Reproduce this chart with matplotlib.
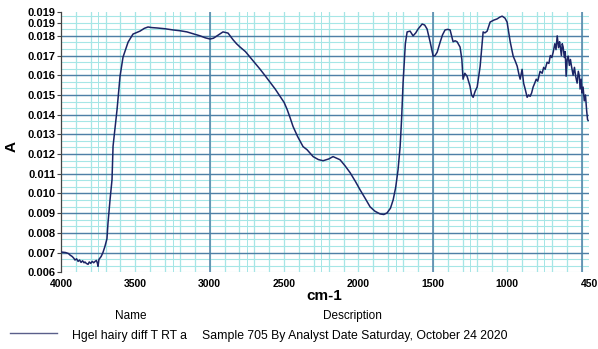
import numpy as np
import matplotlib
matplotlib.use("Agg")
import matplotlib.pyplot as plt
from matplotlib.lines import Line2D

plt.rcParams["font.family"] = ["Liberation Sans", "DejaVu Sans"]

# spectrum (wavenumber cm-1, absorbance)
wavenumber = [
    3993, 3970, 3950, 3939, 3925, 3915, 3906, 3895, 3885, 3875, 3865, 3855,
    3845, 3839, 3830, 3818, 3810, 3800, 3790, 3780, 3771, 3762, 3755, 3751,
    3745, 3738, 3730, 3718, 3705, 3691, 3684, 3670, 3657, 3650, 3623, 3603,
    3583, 3549, 3516, 3469, 3440, 3415, 3390, 3354, 3300, 3247, 3200, 3153,
    3100, 3065, 3030, 2998, 2975, 2951, 2911, 2877, 2843, 2820, 2796, 2760,
    2729, 2700, 2662, 2630, 2594, 2560, 2527, 2500, 2480, 2460, 2440, 2410,
    2373, 2346, 2305, 2270, 2238, 2200, 2171, 2124, 2090, 2056, 2020, 1989,
    1955, 1922, 1890, 1855, 1830, 1808, 1785, 1767, 1750, 1734, 1720, 1710,
    1700, 1685, 1673, 1653, 1633, 1615, 1599, 1572, 1555, 1539, 1518, 1498,
    1485, 1471, 1451, 1435, 1418, 1400, 1384, 1364, 1350, 1337, 1317, 1305,
    1297, 1285, 1270, 1250, 1240, 1229, 1215, 1202, 1182, 1162, 1150, 1135,
    1115, 1090, 1068, 1050, 1034, 1015, 1001, 980, 960, 945, 933, 920, 913,
    900, 890, 879, 866, 856, 846, 836, 826, 815, 805, 795, 779, 765, 755,
    745, 732, 720, 710, 700, 691, 680, 672, 664, 655, 648, 644, 636, 630,
    624, 616, 610, 604, 597, 590, 582, 575, 568, 557, 548, 540, 530, 522,
    515, 510, 503, 497, 490, 482, 474, 466, 460, 456,
]
absorbance = [
    0.00702, 0.00700, 0.00695, 0.00687, 0.00680, 0.00672, 0.00662, 0.00668,
    0.00655, 0.00662, 0.00650, 0.00658, 0.00648, 0.00652, 0.00645, 0.00640,
    0.00652, 0.00645, 0.00655, 0.00648, 0.00655, 0.00660, 0.00645, 0.00630,
    0.00665, 0.00672, 0.00680, 0.00700, 0.00730, 0.00770, 0.00850, 0.00970,
    0.01070, 0.01240, 0.01427, 0.01595, 0.01692, 0.01768, 0.01809, 0.01824,
    0.01838, 0.01845, 0.01842, 0.01840, 0.01836, 0.01830, 0.01826, 0.01820,
    0.01808, 0.01800, 0.01790, 0.01784, 0.01788, 0.01800, 0.01820, 0.01814,
    0.01780, 0.01760, 0.01743, 0.01720, 0.01692, 0.01665, 0.01631, 0.01600,
    0.01564, 0.01530, 0.01493, 0.01462, 0.01427, 0.01385, 0.01340, 0.01290,
    0.01238, 0.01222, 0.01187, 0.01172, 0.01166, 0.01175, 0.01187, 0.01171,
    0.01140, 0.01105, 0.01060, 0.01018, 0.00975, 0.00932, 0.00910, 0.00896,
    0.00893, 0.00901, 0.00925, 0.00967, 0.01030, 0.01120, 0.01238, 0.01380,
    0.01564, 0.01760, 0.01820, 0.01824, 0.01800, 0.01815, 0.01835, 0.01860,
    0.01855, 0.01835, 0.01768, 0.01697, 0.01700, 0.01717, 0.01768, 0.01805,
    0.01830, 0.01833, 0.01830, 0.01770, 0.01775, 0.01770, 0.01743, 0.01680,
    0.01580, 0.01610, 0.01595, 0.01544, 0.01500, 0.01488, 0.01520, 0.01540,
    0.01646, 0.01820, 0.01815, 0.01824, 0.01870, 0.01880, 0.01886, 0.01895,
    0.01900, 0.01890, 0.01870, 0.01770, 0.01697, 0.01670, 0.01646, 0.01600,
    0.01580, 0.01630, 0.01560, 0.01529, 0.01488, 0.01500, 0.01493, 0.01510,
    0.01540, 0.01560, 0.01580, 0.01570, 0.01620, 0.01610, 0.01640, 0.01630,
    0.01666, 0.01660, 0.01700, 0.01690, 0.01717, 0.01760, 0.01730, 0.01800,
    0.01740, 0.01770, 0.01750, 0.01700, 0.01760, 0.01743, 0.01690, 0.01720,
    0.01595, 0.01680, 0.01697, 0.01650, 0.01680, 0.01646, 0.01600, 0.01640,
    0.01595, 0.01560, 0.01620, 0.01595, 0.01530, 0.01580, 0.01510, 0.01540,
    0.01470, 0.01500, 0.01420, 0.01375, 0.01370,
]

x_ticks = [4000, 3500, 3000, 2500, 2000, 1500, 1000, 450]
y_ticks = [0.006, 0.007, 0.008, 0.009, 0.010, 0.011, 0.012, 0.013, 0.014,
           0.015, 0.016, 0.017, 0.018, 0.01865, 0.0192]
y_labels = ["0.006", "0.007", "0.008", "0.009", "0.010", "0.011", "0.012",
            "0.013", "0.014", "0.015", "0.016", "0.017", "0.018", "0.019",
            "0.019"]

fig = plt.figure(figsize=(5.98, 3.49), dpi=100)
ax = fig.add_axes([0.102, 0.22, 0.883, 0.745])

cyan = "#a6e6e6"
dark = "#4f7fa6"

# light grid
for v in range(500, 4000, 100):
    ax.axvline(v, color=cyan, lw=0.9, zorder=1)
for v in range(750, 4000, 500):
    ax.axvline(v, color=cyan, lw=0.7, zorder=1)
for v in range(250, 4000, 500):
    ax.axvline(v, color=cyan, lw=0.7, zorder=1)
for v in np.arange(0.006, 0.0192, 0.001 / 3):
    ax.axhline(v, color=cyan, lw=0.8, zorder=1)
# darker grid
for v in [3000, 1500, 500]:
    ax.axvline(v, color=dark, lw=1.1, zorder=2)
for v in np.arange(0.007, 0.0185, 0.001):
    ax.axhline(v, color=dark, lw=1.0, zorder=2)

ax.plot(wavenumber, absorbance, color="#1c2566", lw=1.1, zorder=3)

ax.set_xlim(4000, 450)
ax.set_ylim(0.006, 0.0192)
ax.set_xticks(x_ticks)
ax.set_xticklabels([str(t) for t in x_ticks], fontsize=7.5, fontweight="bold")
ax.set_yticks(y_ticks)
ax.set_yticklabels(y_labels, fontsize=8, fontweight="bold")
ax.tick_params(axis="x", length=0, pad=5)
ax.tick_params(axis="y", length=3, width=0.8, color="#444444", pad=1)
for s in ["top", "right", "bottom"]:
    ax.spines[s].set_visible(False)
ax.spines["left"].set_color("#444444")
ax.spines["left"].set_linewidth(0.9)

fig.text(0.02, 0.58, "A", rotation=90, fontsize=11, fontweight="bold",
         va="center", ha="center")
fig.text(0.542, 0.14, "cm-1", fontsize=11, fontweight="bold", ha="center")
fig.text(0.218, 0.085, "Name", fontsize=8.5, ha="center")
fig.text(0.59, 0.085, "Description", fontsize=8.5, ha="center")
fig.add_artist(Line2D([0.017, 0.095], [0.045, 0.045], color="#5a5f8a",
                      lw=1.0, transform=fig.transFigure))
fig.text(0.12, 0.03, "Hgel hairy diff T RT a", fontsize=8.8)
fig.text(0.338, 0.03, "Sample 705 By Analyst Date Saturday, October 24 2020",
         fontsize=8.8)

fig.savefig("out.png", dpi=100)
